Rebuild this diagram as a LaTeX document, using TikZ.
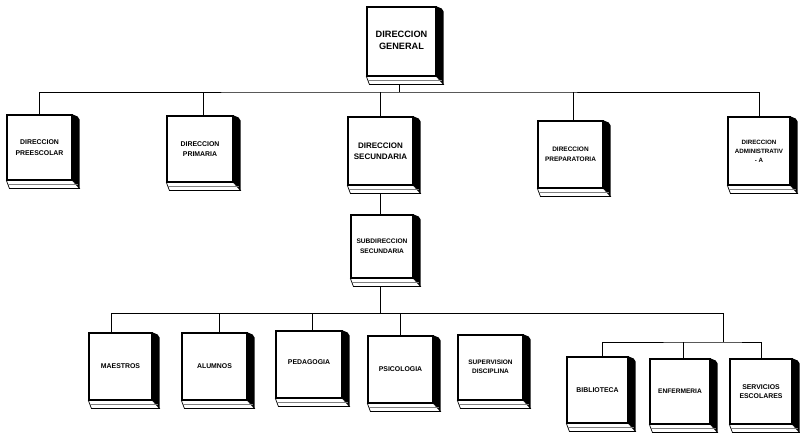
\documentclass[tikz,border=0pt]{standalone}
\usepackage{fontspec}
\setmainfont{Liberation Sans}
\newcommand\bookedge[1]{%
  \fill ([shift={(0,0)}]#1.north east) -- ++(5,2) -- ++(2,3) -- ([shift={(7,8)}]#1.south east) -- (#1.south east) -- cycle;
  \filldraw[fill=white, line width=0.7pt] (#1.south west) -- ([shift={(3,8)}]#1.south west) -- ([shift={(7,8)}]#1.south east) -- (#1.south east) -- cycle;
  \draw[gray, line width=0.5pt] ([shift={(2,4)}]#1.south west) -- ([shift={(5,4)}]#1.south east);
  \draw[line width=1.5pt] ([shift={(3,8)}]#1.south west) -- ([shift={(7,8)}]#1.south east);
}
\begin{document}
\begin{tikzpicture}[x=1pt,y=-1pt,
  book/.style={draw, line width=1.1pt, fill=white, inner sep=1pt, align=center,
    font=\bfseries\fontsize{6.9}{10.5}\selectfont},
  bottombook/.style={book, font=\bfseries\fontsize{6.9}{8.5}\selectfont},
  wh/.style 2 args={minimum width=#1pt, minimum height=#2pt},
  link/.style={line width=0.95pt}]
\useasboundingbox (0,0) rectangle (800,432);
% fronts
\node[book, wh={69}{69}, font=\bfseries\fontsize{9.2}{12}\selectfont] (dg) at (401.5,41.5)
  {\raisebox{5pt}{\begin{tabular}{@{}c@{}}DIRECCION\\GENERAL\end{tabular}}};
\node[book, wh={65}{65}] (pre) at (39.5,147.5) {DIRECCION\\PREESCOLAR};
\node[book, wh={66}{66}] (pri) at (200,149) {DIRECCION\\PRIMARIA};
\node[book, wh={65}{68}, font=\bfseries\fontsize{8}{11}\selectfont] (sec) at (380.5,151) {DIRECCION\\SECUNDARIA};
\node[book, wh={65}{67}, font=\bfseries\fontsize{6.5}{10.5}\selectfont] (prep) at (570.5,154.5) {DIRECCION\\PREPARATORIA};
\node[book, wh={62}{68}, font=\bfseries\fontsize{6.2}{9}\selectfont] (adm) at (759,151) {DIRECCION\\ADMINISTRATIV\\- A};
\node[book, wh={62}{63}, font=\bfseries\fontsize{6.6}{10}\selectfont] (sub) at (382,246.5) {SUBDIRECCION\\SECUNDARIA};
\node[bottombook, wh={63}{67}] (mae) at (120.5,366.5) {MAESTROS};
\node[bottombook, wh={65}{67}] (alu) at (214.5,366.5) {ALUMNOS};
\node[bottombook, wh={66}{67}] (ped) at (309,364.5) {\raisebox{4pt}{PEDAGOGIA}};
\node[bottombook, wh={65}{67}] (psi) at (400.5,369.5) {PSICOLOGIA};
\node[bottombook, wh={65}{65}, font=\bfseries\fontsize{6.5}{8.5}\selectfont] (sup) at (490.5,367.5) {\raisebox{5pt}{\begin{tabular}{@{}c@{}}SUPERVISION\\DISCIPLINA\end{tabular}}};
\node[bottombook, wh={61}{66}] (bib) at (597.5,390) {BIBLIOTECA};
\node[bottombook, wh={60}{65}, font=\bfseries\fontsize{6.6}{8.5}\selectfont] (enf) at (680,391.5) {ENFERMERIA};
\node[bottombook, wh={62}{65}] (ser) at (761,391.5) {SERVICIOS\\ESCOLARES};
% bar points
\coordinate (b1) at (399,92);
\coordinate (b2) at (723,313);
\coordinate (b3) at (723,342);
% connectors
\draw[link] ([xshift=-2.5pt]dg.south) -- ([xshift=-2.5pt]dg.south |- b1);
\draw[link] (pre) |- (b1) -| (adm);
\draw[link] ([xshift=3pt]pri.north) -- ([xshift=3pt]pri.north |- b1);
\draw[link] (sec) -- (sec |- b1);
\draw[link] ([xshift=2.5pt]prep.north) -- ([xshift=2.5pt]prep.north |- b1);
\draw[link] (sec) -- (sec |- sub.north);
\draw[link] ([xshift=-2pt]sub.south) -- ([xshift=-2pt]sub.south |- b2);
\draw[link] ([xshift=-9.5pt]mae.north) |- (b2) -- (b3);
\draw[link] ([xshift=4.5pt]alu.north) -- ([xshift=4.5pt]alu.north |- b2);
\draw[link] ([xshift=3pt]ped.north) -- ([xshift=3pt]ped.north |- b2);
\draw[link] (psi) -- (psi |- b2);
\draw[link] ([xshift=4.5pt]bib.north) |- (b3) -| (ser);
\draw[link] ([xshift=3pt]enf.north) -- ([xshift=3pt]enf.north |- b3);
% book edges
\foreach \n in {dg,pre,pri,sec,prep,adm,sub,mae,alu,ped,psi,sup,bib,enf,ser} {\bookedge{\n}}
\end{tikzpicture}
\end{document}
